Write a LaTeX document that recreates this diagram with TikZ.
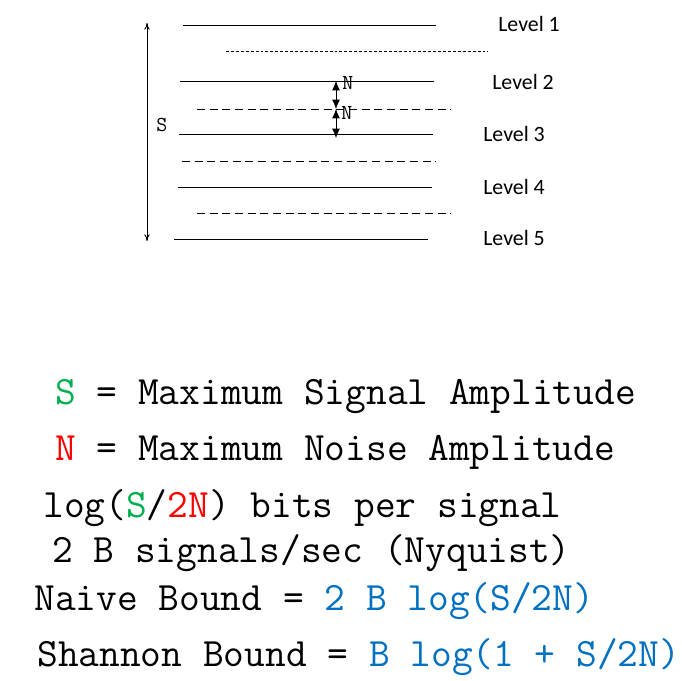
\documentclass[tikz,border=0pt]{standalone}
\usepackage{fontspec}
\usepackage{xcolor}
\newfontfamily\levelfont{Carlito}
\usetikzlibrary{arrows.meta}
\definecolor{sgreen}{HTML}{00B050}
\definecolor{nred}{HTML}{FF0000}
\definecolor{bblue}{HTML}{0070C0}
\begin{document}
\begin{tikzpicture}[x=0.75pt,y=-0.75pt]
      \useasboundingbox(0,0) rectangle (682,681);
      \tikzset{L/.style = {draw,line width=0.7pt}}
      \tikzset{D/.style = {draw,line width=0.7pt,dash pattern=on 6pt off 3.5pt}}
      \tikzset{T/.style = {inner sep=0pt,anchor=base west,font=\levelfont\fontsize{16.4}{19}\selectfont}}
      \tikzset{M/.style = {inner sep=0pt,anchor=base west,font=\ttfamily\fontsize{30.2}{34}\selectfont}}
      \tikzset{V/.style = {inner sep=0pt,anchor=base west,font=\ttfamily\fontsize{16}{18}\selectfont}}
      \tikzset{E/.style = {draw,line width=0.7pt,{Latex[length=7pt,width=6pt]}-{Latex[length=7pt,width=6pt]}}}
      % levels
      \coordinate (l1a) at (183,25);   \coordinate (l1b) at (436,25);
      \coordinate (l2a) at (180,81);   \coordinate (l2b) at (434,81);
      \coordinate (l3a) at (179,134);  \coordinate (l3b) at (433,134);
      \coordinate (l4a) at (178,187);  \coordinate (l4b) at (432,187);
      \coordinate (l5a) at (174,239);  \coordinate (l5b) at (428,239);
      \draw[L](l1a) to (l1b);
      \draw[L](l2a) to (l2b);
      \draw[L](l3a) to (l3b);
      \draw[L](l4a) to (l4b);
      \draw[L](l5a) to (l5b);
      % thresholds
      \coordinate (d1a) at (226,51);   \coordinate (d1b) at (488,51);
      \coordinate (d2a) at (197,109);  \coordinate (d2b) at (451,109);
      \coordinate (d3a) at (182,161);  \coordinate (d3b) at (436,161);
      \coordinate (d4a) at (197,213);  \coordinate (d4b) at (451,213);
      \draw[draw,line width=0.6pt,dash pattern=on 2.2pt off 1.5pt](d1a) to (d1b);
      \draw[D](d2a) to (d2b);
      \draw[D](d3a) to (d3b);
      \draw[D](d4a) to (d4b);
      \node[T](lv1) at (498,31.5) {Level 1};
      \node[T](lv2) at (492,90) {Level 2};
      \node[T](lv3) at (483,141.5) {Level 3};
      \node[T](lv4) at (483,195) {Level 4};
      \node[T](lv5) at (483,245) {Level 5};
      % signal range
      \coordinate (stop) at (147,23);
      \coordinate (sbot) at (147,241);
      \draw[draw,line width=0.7pt,{To[length=5pt,width=4pt]}-{To[length=5pt,width=4pt]}](stop) to (sbot);
      \node[V](s) at (156,131.5) {S};
      % noise
      \coordinate (n1) at (336,81);
      \coordinate (n2) at (336,109);
      \coordinate (n3) at (336,138);
      \draw[E](n1) to (n2);
      \draw[E](n2) to (n3);
      \node[V](na) at (342,90) {N};
      \node[V](nb) at (341,120) {N};
      % formulas
      \node[M](t1) at (55,404) {\textcolor{sgreen}{S} = Maximum Signal Amplitude};
      \node[M](t2) at (55,460) {\textcolor{nred}{N} = Maximum Noise Amplitude};
      \node[M](t3) at (43,517) {log(\textcolor{sgreen}{S}/\textcolor{nred}{2N}) bits per signal};
      \node[M](t4) at (52,562) {2 B signals/sec (Nyquist)};
      \node[M](t5) at (34,610) {Naive Bound = \textcolor{bblue}{2 B log(S/2N)}};
      \node[M](t6) at (37,666) {Shannon Bound = \textcolor{bblue}{B log(1 + S/2N)}};
    \end{tikzpicture}
\end{document}
